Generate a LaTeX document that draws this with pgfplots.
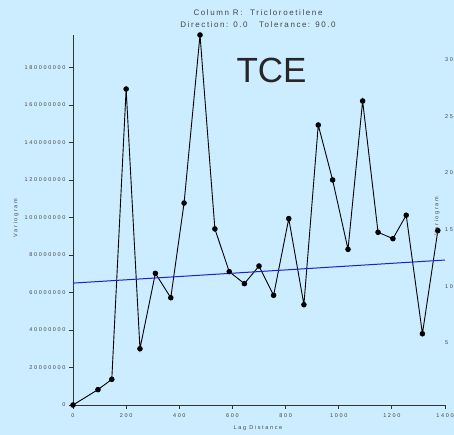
\documentclass[border=0pt]{standalone}
\usepackage{pgfplots}
\pgfplotsset{compat=1.18}
\usepackage{fontspec}
\setmainfont{Liberation Sans}
\newfontfamily\spaced[LetterSpace=30]{Liberation Sans}
\newfontfamily\titlefont[LetterSpace=20]{Liberation Sans}
\definecolor{bg}{RGB}{204,236,255}
\definecolor{txt}{RGB}{70,70,70}
\definecolor{trend}{RGB}{30,30,210}
\newcommand{\tk}{\fontsize{5.5}{6}\spaced}
\begin{document}
\begin{tikzpicture}[x=1pt,y=1pt]
\useasboundingbox (0pt,0pt) rectangle (454pt,435pt);
\fill[bg] (0pt,0pt) rectangle (454pt,435pt);
\clip (0pt,0pt) rectangle (454pt,435pt);
\begin{axis}[
  at={(73pt,30pt)}, anchor=south west,
  scale only axis, width=372pt, height=370pt,
  xmin=0, xmax=1400, ymin=0, ymax=197300000,
  axis x line=bottom, axis y line=left,
  axis line style={-, draw=black!80, line width=0.9pt},
  xtick={0,200,...,1400},
  ytick={0,20000000,40000000,60000000,80000000,100000000,120000000,140000000,160000000,180000000},
  scaled y ticks=false, scaled x ticks=false,
  /pgf/number format/assume math mode=true,
  /pgf/number format/fixed, /pgf/number format/1000 sep={},
  tick align=outside, major tick length=4pt,
  tick style={draw=black!80, line width=0.8pt},
  ticklabel style={font=\tk, text=txt},
  xticklabel style={yshift=-1pt},
  clip=false,
]
\addplot[color=black, line width=0.9pt, mark=*, mark size=2.3pt] coordinates {
 (0,0) (94,8200000) (146,13700000) (200,168500000) (252,30000000)
 (310,70200000) (368,57200000) (418,107700000) (478,197300000) (534,93900000)
 (588,71100000) (645,64700000) (700,74100000) (755,58500000) (812,99400000)
 (869,53500000) (923,149300000) (977,120000000) (1035,83000000) (1090,162100000)
 (1148,92100000) (1204,88700000) (1254,101200000) (1315,38000000) (1373,93000000)
};
\addplot[color=trend, line width=1pt] coordinates {(0,65000000) (1400,77300000)};
\end{axis}
\node[text=txt, font=\titlefont\fontsize{8}{9}\selectfont] at (258pt,422.5pt) {Column R:\ \ Tricloroetilene};
\node[text=txt, font=\titlefont\fontsize{8}{9}\selectfont] at (258pt,410pt) {Direction\,: 0.0\ \ \ Tolerance\,: 90.0};
\node[text=black!85, font=\fontsize{35}{36}\selectfont] at (271.5pt,364.5pt) {TCE};
\node[text=txt, font=\tk] at (258pt,7pt) {Lag Distance};
\node[text=txt, font=\tk, rotate=90] at (16pt,217pt) {Variogram};
\node[text=txt, font=\tk, rotate=90] at (437pt,219pt) {Variogram};
\foreach \v/\py in {30/60,25/117,20/173,15/230,10/287,5/343}{
  \node[text=txt, font=\tk, anchor=west, inner sep=0pt] at (445pt,435pt-\py pt) {\v};
}
\end{tikzpicture}
\end{document}
